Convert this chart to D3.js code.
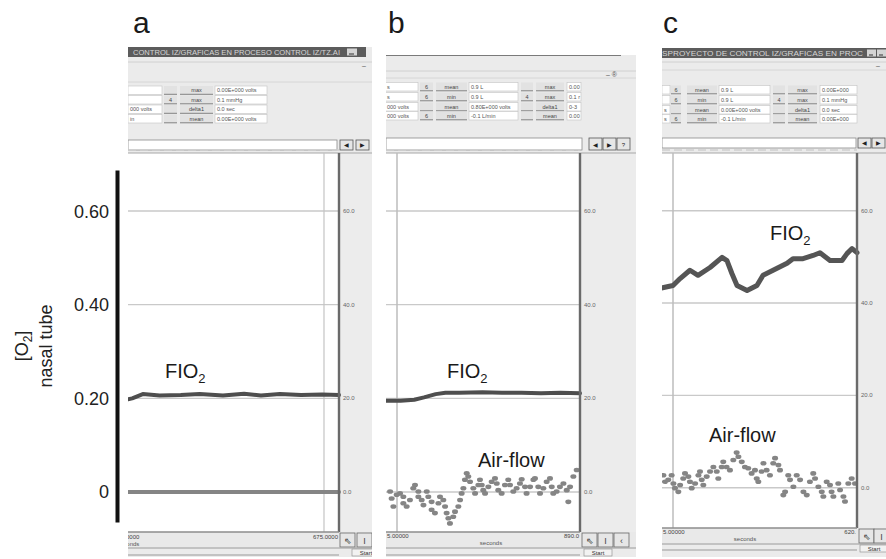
<!DOCTYPE html>
<html>
<head>
<meta charset="utf-8">
<script src="https://cdn.jsdelivr.net/npm/d3@7"></script>
<style>
body { margin: 0; background: #fff; }
</style>
</head>
<body>
<div id="chart"></div>
<script>
// ---- data ----
var panelLetters = ['a', 'b', 'c'];
var leftTicks = [0, 0.2, 0.4, 0.6];
var leftTickLabels = ['0', '0.20', '0.40', '0.60'];
var rightTicks = [0, 20, 40, 60];
var rightTickLabels = ['0.0', '20.0', '40.0', '60.0'];

// time is % of the visible trace window
var fio2A_t = [0, 2, 7, 15, 25, 34, 45, 55, 63, 72, 82, 92, 100];
var fio2A_v = [19.8, 20.0, 20.9, 20.6, 20.7, 20.9, 20.6, 21.0, 20.6, 20.9, 20.7, 20.8, 20.7];
var zeroA_t = [0, 100];
var zeroA_v = [0, 0];

var fio2B_t = [0, 8, 15, 20, 26, 31, 38, 50, 60, 70, 80, 90, 100];
var fio2B_v = [19.5, 19.5, 19.7, 20.2, 20.9, 21.2, 21.2, 21.3, 21.2, 21.2, 21.1, 21.2, 21.1];
var airB_t = [2.6, 3.4, 4.3, 6.0, 7.7, 9.4, 9.4, 11.1, 12.8, 14.5, 15.4, 17.1, 17.1, 18.8, 19.7, 21.4, 22.2, 23.9, 23.9, 25.6,
  27.4, 28.2, 29.9, 30.8, 31.6, 32.5, 33.3, 35.0, 35.9, 37.6, 38.5, 39.3, 40.2, 41.0, 41.9, 42.7, 43.6, 45.3, 46.2, 47.9,
  48.7, 49.6, 50.4, 51.3, 53.0, 54.7, 56.4, 57.3, 58.1, 59.8, 61.5, 63.2, 64.1, 65.8, 67.5, 69.2, 70.1, 71.8, 72.6, 74.4,
  76.1, 76.9, 78.6, 79.5, 81.2, 82.9, 84.6, 85.5, 86.3, 88.0, 89.7, 91.5, 93.2, 94.0, 94.9, 96.6, 98.3];
var airB_v = [0.1, -1.4, -3.1, -0.6, -0.3, -1.0, -2.4, -3.1, -1.7, 0.8, 1.5, 0.1, -1.0, -1.7, -2.8, 0.1, -1.0, -2.1, -3.8, -4.5,
  -2.4, -1.0, -1.7, -3.1, -4.5, -5.6, -6.7, -5.3, -4.2, -3.1, -1.7, -0.3, 0.8, 2.6, 4.0, 3.3, 2.2, 0.8, -0.3, 1.5,
  2.6, 1.5, 0.4, -0.3, 1.1, 2.2, 2.9, 1.8, 0.4, -0.3, 1.5, 2.6, 1.5, 0.1, 0.8, 1.8, 2.7, 1.1, -0.3, 1.1,
  2.6, 2.9, 1.1, -0.3, 0.8, 2.2, 2.9, 1.1, -0.3, 0.1, 1.1, 1.8, 0.4, -2.1, 1.1, 3.3, 4.7];

var fio2C_t = [0, 6.6, 10.2, 15.2, 19.3, 25.4, 31.5, 34.0, 36.5, 39.1, 44.2, 49.2, 52.3, 57.4, 64.5, 67.5, 72.6, 77.7, 81.2, 86.3, 92.4, 94.9, 97.5, 100];
var fio2C_v = [43.2, 43.8, 45.3, 47.1, 46.0, 47.7, 49.9, 49.2, 46.4, 43.8, 42.7, 43.8, 46.0, 47.1, 48.6, 49.6, 49.6, 50.3, 50.9, 49.2, 49.2, 50.7, 51.8, 50.9];
var airC_t = [1.7, 2.5, 4.2, 5.9, 6.8, 7.6, 9.3, 10.2, 11.8, 12.7, 14.4, 15.2, 16.1, 17.8, 19.5, 20.3, 21.2, 22.0, 23.7, 25.4,
  27.1, 28.8, 29.6, 31.3, 32.1, 33.8, 35.5, 37.2, 38.9, 39.8, 41.5, 43.1, 44.8, 46.5, 48.2, 49.1, 49.9, 51.6, 52.5, 54.1,
  55.8, 57.5, 58.4, 60.1, 60.9, 62.6, 63.5, 65.1, 66.0, 67.7, 69.4, 71.1, 72.8, 74.5, 76.1, 77.8, 78.7, 80.4, 82.1, 82.9,
  84.6, 86.3, 87.1, 88.0, 90.5, 91.4, 93.1, 93.9, 95.6, 97.3, 99.0];
var airC_v = [2.7, 1.3, 1.7, 2.7, 0.9, -0.1, -0.9, 0.6, 2.0, 3.1, 2.4, 1.3, -0.1, 0.9, 2.7, 3.5, 1.7, 0.6, 2.4, 3.5,
  4.5, 3.5, 2.0, 4.5, 5.6, 4.5, 3.8, 6.0, 7.6, 6.7, 5.6, 4.5, 4.2, 3.1, 3.8, 2.0, 1.3, 3.5, 5.3, 3.8,
  2.7, 5.3, 6.4, 4.9, 3.8, -1.6, -0.9, 2.7, 1.7, 0.2, 2.7, 1.7, -0.9, -1.6, 1.3, 3.1, 2.0, 0.2, -0.9, -1.9,
  1.3, 0.6, -0.9, -1.9, 0.9, -0.5, -1.9, -3.0, 0.9, 2.0, 0.9];

// software screenshot texts
var titleA = 'CONTROL IZ/GRAFICAS EN PROCESO CONTROL IZ/TZ.AI';
var titleC = 'SPROYECTO DE CONTROL IZ/GRAFICAS EN PROC';
var tableA = [
  ['', '', 'max', '0.00E+000 volts'],
  ['', '4', 'max', '0.1 mmHg'],
  ['000 volts', '', 'delta1', '0.0 sec'],
  ['in', '', 'mean', '0.00E+000 volts']
];
var tableB = [
  ['s', '6', 'mean', '0.9 L', '', 'max', '0.00'],
  ['s', '6', 'min', '0.9 L', '4', 'max', '0.1 r'],
  ['000 volts', '', 'mean', '0.80E+000 volts', '', 'delta1', '0-3'],
  ['000 volts', '6', 'min', '-0.1 L/min', '', 'mean', '0.00']
];
var tableC = [
  ['', '6', 'mean', '0.9 L', '', 'max', '0.00E+000'],
  ['', '6', 'min', '0.9 L', '4', 'max', '0.1 mmHg'],
  ['s', '', 'mean', '0.00E+000 volts', '', 'delta1', '0.0 sec'],
  ['s', '6', 'min', '-0.1 L/min', '', 'mean', '0.00E+000']
];
var xLabelsA = ['0.0000', '675.0000'];
var xLabelsB = ['5.00000', '890.0'];
var xLabelsC = ['5.00000', '620.'];

// ---- layout ----
var font = "'Liberation Sans', Arial, Helvetica, sans-serif";
var svg = d3.select('#chart')
  .append('svg')
  .attr('width', 886)
  .attr('height', 559)
  .style('font-family', font);

var panels = [
  {key: 'a', x0: 128, x1: 372, top: 47, bottom: 557, plotTop: 153, plotBot: 532,
    xL: 128, xR: 339, y0: 492, y60: 211, title: titleA, titleX: 133, titleW: 207, barEnd: 366,
    winBtns: [[347, 10]], menuLine: 62, menuLine2: 82,
    cols: [[128, 34, 'box'], [164, 13, 'sb'], [180, 33, 'btn'], [215, 52, 'box']],
    rowTops: [86, 95.5, 105, 114.5], table: tableA,
    tbY: 140, tbH: 10, tbEnd: 337, navBtns: [[340, '\u25C0'], [356, '\u25B6']],
    cursor: 324, leftLine: null,
    xLabels: xLabelsA, xlY: 539, secX: 117, btnX: [340, 357], startX: 352, endLine: 555},
  {key: 'b', x0: 386, x1: 636, top: 55, bottom: 557, plotTop: 153, plotBot: 532,
    xL: 385, xR: 580, y0: 492, y60: 211, title: null, menuLine: 71, menuLine2: 78,
    cols: [[385, 33, 'box'], [420, 13, 'sb'], [436, 31, 'btn'], [469, 49, 'box'], [521, 12, 'sb'], [536, 28, 'btn'], [567, 14, 'box']],
    rowTops: [82.5, 92.5, 102.5, 111.5], table: tableB,
    tbY: 138, tbH: 12, tbEnd: 582, navBtns: [[589, '\u25C0'], [603, '\u25B6'], [617, '?']],
    cursor: null, leftLine: 397,
    xLabels: xLabelsB, xlY: 538, secX: 491, btnX: [582, 598, 614], startX: 584, endLine: 555},
  {key: 'c', x0: 662, x1: 886, top: 48, bottom: 557, plotTop: 153, plotBot: 528,
    xL: 660, xR: 857, y0: 487.7, y60: 210.7, title: titleC, titleX: 662, titleW: 201, barEnd: 886,
    winBtns: [[867, 9], [877, 9]], menuLine: 62, menuLine2: 70,
    cols: [[662, 8, 'box'], [671, 10, 'sb'], [687, 30, 'btn'], [719, 51, 'box'], [773, 12, 'sb'], [788, 29, 'btn'], [820, 37, 'box']],
    rowTops: [85.5, 95.5, 105.5, 114.5], table: tableC,
    tbY: 138, tbH: 10, tbEnd: 856, navBtns: [[858, '\u25C0'], [872, '\u25B6']],
    cursor: null, leftLine: 673,
    xLabels: xLabelsC, xlY: 534, secX: 745, btnX: [859, 874], startX: 860, endLine: 550}
];

var traces = {
  a: {lines: [[fio2A_t, fio2A_v, '#4e4e4e', 4], [zeroA_t, zeroA_v, '#858585', 4]], dots: null},
  b: {lines: [[fio2B_t, fio2B_v, '#4e4e4e', 4]], dots: [airB_t, airB_v]},
  c: {lines: [[fio2C_t, fio2C_v, '#555555', 5]], dots: [airC_t, airC_v]}
};

function drawPanel(p) {
  var x = d3.scaleLinear().domain([0, 100]).range([p.xL, p.xR]);
  var y = d3.scaleLinear().domain([0, 60]).range([p.y0, p.y60]);
  var rightLine = p.xR;

  svg.append('clipPath')
    .attr('id', 'clip-' + p.key)
    .append('rect')
    .attr('x', p.x0).attr('y', p.top)
    .attr('width', p.x1 - p.x0).attr('height', p.bottom - p.top);
  var g = svg.append('g').attr('clip-path', 'url(#clip-' + p.key + ')');

  // window background
  g.append('rect').attr('x', p.x0).attr('y', p.top)
    .attr('width', p.x1 - p.x0).attr('height', p.bottom - p.top).attr('fill', '#ebebeb');

  // title bar
  if (p.title) {
    g.append('rect').attr('x', p.x0).attr('y', p.top)
      .attr('width', p.barEnd - p.x0).attr('height', 10).attr('fill', '#5c5c5c');
    g.append('text').attr('x', p.titleX).attr('y', p.top + 7.5)
      .attr('textLength', p.titleW).attr('lengthAdjust', 'spacingAndGlyphs')
      .style('font-size', '7px').attr('fill', '#d6d6d6').text(p.title);
    p.winBtns.forEach(function (b) {
      g.append('rect').attr('x', b[0]).attr('y', p.top + 1.5).attr('width', b[1]).attr('height', 7)
        .attr('fill', '#d4d4d4');
      g.append('line').attr('x1', b[0] + 2).attr('x2', b[0] + b[1] - 3)
        .attr('y1', p.top + 7).attr('y2', p.top + 7).attr('stroke', '#333');
    });
  } else {
    g.append('line').attr('x1', p.x0).attr('x2', p.x1 - 15)
      .attr('y1', p.top).attr('y2', p.top).attr('stroke', '#555').attr('stroke-width', 1.5);
  }
  g.append('line').attr('x1', p.x0).attr('x2', p.x1)
    .attr('y1', p.menuLine).attr('y2', p.menuLine).attr('stroke', '#d0d0d0');
  g.append('line').attr('x1', p.x0).attr('x2', p.x1)
    .attr('y1', p.menuLine2).attr('y2', p.menuLine2).attr('stroke', '#d6d6d6');
  g.append('text').attr('x', p.x1 - (p.title ? 10 : 30)).attr('y', p.menuLine + 6)
    .style('font-size', '7px').attr('fill', '#555').text(p.title ? '\u2013' : '\u2013  \u00ae');

  // readout table
  p.table.forEach(function (row, ri) {
    var ty = p.rowTops[ri];
    p.cols.forEach(function (c, ci) {
      var txt = row[ci];
      if (c[2] === 'box') {
        g.append('rect').attr('x', c[0]).attr('y', ty).attr('width', c[1]).attr('height', 8.5)
          .attr('fill', '#fff').attr('stroke', '#c4c4c4').attr('stroke-width', 0.6);
        g.append('text').attr('x', c[0] + 2).attr('y', ty + 6.3)
          .style('font-size', '5.5px').attr('fill', '#555').text(txt);
      } else {
        g.append('rect').attr('x', c[0]).attr('y', ty).attr('width', c[1]).attr('height', 8.5)
          .attr('fill', '#e2e2e2');
        g.append('line').attr('x1', c[0]).attr('x2', c[0] + c[1])
          .attr('y1', ty + 8.3).attr('y2', ty + 8.3).attr('stroke', '#6a6a6a').attr('stroke-width', 0.8);
        g.append('text').attr('x', c[0] + c[1] / 2).attr('y', ty + 6.3).attr('text-anchor', 'middle')
          .style('font-size', '5.5px').attr('fill', '#444').text(txt);
      }
    });
  });

  // toolbar input and navigation buttons
  g.append('rect').attr('x', p.x0).attr('y', p.tbY).attr('width', p.tbEnd - p.x0).attr('height', p.tbH)
    .attr('fill', '#fff').attr('stroke', '#8a8a8a').attr('stroke-width', 0.8);
  p.navBtns.forEach(function (b) {
    g.append('rect').attr('x', b[0]).attr('y', p.tbY).attr('width', 13).attr('height', p.tbH)
      .attr('fill', '#e6e6e6').attr('stroke', '#555').attr('stroke-width', 0.8);
    g.append('text').attr('x', b[0] + 6.5).attr('y', p.tbY + p.tbH - 3).attr('text-anchor', 'middle')
      .style('font-size', '6px').attr('fill', '#222').text(b[1]);
  });
  g.append('line').attr('x1', p.x0).attr('x2', rightLine)
    .attr('y1', p.plotTop - 3).attr('y2', p.plotTop - 3)
    .attr('stroke', '#cfcfcf').attr('stroke-width', 1.5).attr('stroke-dasharray', '8,4');

  // plot area and right value strip
  g.append('rect').attr('x', p.x0).attr('y', p.plotTop)
    .attr('width', rightLine - p.x0).attr('height', p.plotBot - p.plotTop).attr('fill', '#fff');
  g.append('rect').attr('x', rightLine).attr('y', p.plotTop)
    .attr('width', p.x1 - rightLine).attr('height', p.plotBot - p.plotTop).attr('fill', '#ececec');
  g.append('line').attr('x1', p.x0).attr('x2', p.x1)
    .attr('y1', p.plotTop).attr('y2', p.plotTop).attr('stroke', '#a8a8a8').attr('stroke-width', 1.2);

  // grid
  g.selectAll('.grid').data(rightTicks).enter().append('line')
    .attr('x1', p.x0).attr('x2', rightLine)
    .attr('y1', function (d) { return y(d); }).attr('y2', function (d) { return y(d); })
    .attr('stroke', '#c9c9c9').attr('stroke-width', 1.4);
  if (p.leftLine) {
    g.append('line').attr('x1', p.leftLine).attr('x2', p.leftLine)
      .attr('y1', p.plotTop).attr('y2', p.plotBot).attr('stroke', '#bdbdbd').attr('stroke-width', 1.5);
  }
  if (p.cursor) {
    g.append('line').attr('x1', p.cursor).attr('x2', p.cursor)
      .attr('y1', p.plotTop).attr('y2', p.plotBot).attr('stroke', '#c4c4c4').attr('stroke-width', 1.2);
  }

  // traces
  var line = d3.line()
    .x(function (d) { return x(d[0]); })
    .y(function (d) { return y(d[1]); })
    .curve(d3.curveLinear);
  var tr = traces[p.key];
  tr.lines.forEach(function (l) {
    g.append('path').datum(d3.zip(l[0], l[1]))
      .attr('d', line).attr('fill', 'none')
      .attr('stroke', l[2]).attr('stroke-width', l[3])
      .attr('stroke-linecap', 'round').attr('stroke-linejoin', 'round');
  });
  if (tr.dots) {
    g.selectAll('.dot').data(d3.zip(tr.dots[0], tr.dots[1])).enter().append('ellipse')
      .attr('cx', function (d) { return x(d[0]); })
      .attr('cy', function (d) { return y(d[1]); })
      .attr('rx', 3).attr('ry', 2.3)
      .attr('fill', '#858585');
  }

  // right value line and labels
  g.append('line').attr('x1', rightLine).attr('x2', rightLine)
    .attr('y1', p.plotTop).attr('y2', p.plotBot + 2).attr('stroke', '#6a6a6a').attr('stroke-width', 2.4);
  g.selectAll('.rlab').data(rightTicks).enter().append('text')
    .attr('x', rightLine + 4)
    .attr('y', function (d) { return y(d) + 2; })
    .style('font-size', '6px').attr('fill', '#666')
    .text(function (d, i) { return rightTickLabels[i]; });

  // bottom time axis bar
  g.append('rect').attr('x', p.x0).attr('y', p.plotBot).attr('width', p.x1 - p.x0).attr('height', 16)
    .attr('fill', '#e9e9e9');
  g.append('line').attr('x1', p.x0).attr('x2', rightLine)
    .attr('y1', p.plotBot).attr('y2', p.plotBot).attr('stroke', '#8c8c8c').attr('stroke-width', 1.5);
  g.append('text').attr('x', p.key === 'a' ? 121 : p.x0 + 1).attr('y', p.xlY)
    .style('font-size', '6px').attr('fill', '#444').text(p.xLabels[0]);
  g.append('text').attr('x', rightLine - 1).attr('y', p.xlY).attr('text-anchor', 'end')
    .style('font-size', '6px').attr('fill', '#444').text(p.xLabels[1]);
  g.append('text').attr('x', p.secX).attr('y', p.xlY + 7).attr('text-anchor', p.key === 'a' ? 'start' : 'middle')
    .style('font-size', '6px').attr('fill', '#555').text('seconds');
  p.btnX.forEach(function (bx, i) {
    g.append('rect').attr('x', bx).attr('y', p.plotBot + 1).attr('width', 15).attr('height', 14)
      .attr('fill', '#e6e6e6').attr('stroke', '#666').attr('stroke-width', 0.8);
    g.append('text').attr('x', bx + 7.5).attr('y', p.plotBot + 12).attr('text-anchor', 'middle')
      .style('font-size', '9px').attr('fill', '#444')
      .text(['\u21D6', 'I', '\u2039'][i]);
  });
  g.append('line').attr('x1', p.x0).attr('x2', p.x1)
    .attr('y1', p.plotBot + 16).attr('y2', p.plotBot + 16).attr('stroke', '#9a9a9a');
  g.append('rect').attr('x', p.startX).attr('y', p.plotBot + 17).attr('width', 28).attr('height', 7)
    .attr('fill', '#f2f2f2').attr('stroke', '#888').attr('stroke-width', 0.6);
  g.append('text').attr('x', p.startX + 14).attr('y', p.plotBot + 23).attr('text-anchor', 'middle')
    .style('font-size', '6px').attr('fill', '#333').text('Start');
  g.append('line').attr('x1', p.x0).attr('x2', rightLine)
    .attr('y1', p.endLine).attr('y2', p.endLine).attr('stroke', '#9a9a9a').attr('stroke-width', 1.2);
}

panels.forEach(drawPanel);

// panel letters
var letterX = [133, 388, 663];
svg.selectAll('.letter').data(panelLetters).enter().append('text')
  .attr('x', function (d, i) { return letterX[i]; })
  .attr('y', 33)
  .style('font-size', '30px').attr('fill', '#1a1a1a')
  .text(function (d) { return d; });

// trace labels
function subLabel(xp, yp, main, sub) {
  var t = svg.append('text').attr('x', xp).attr('y', yp)
    .style('font-size', '20px').attr('fill', '#1a1a1a').text(main);
  if (sub) {
    t.append('tspan').attr('dy', 5).style('font-size', '13px').text(sub);
  }
}
subLabel(165, 378, 'FIO', '2');
subLabel(447, 378, 'FIO', '2');
subLabel(770, 240, 'FIO', '2');
subLabel(478, 467, 'Air-flow');
subLabel(709, 442, 'Air-flow');

// shared left axis
var yLeft = d3.scaleLinear().domain([-0.064, 0.689]).range([522, 170]);
var leftAxis = d3.axisLeft(yLeft)
  .tickValues(leftTicks)
  .tickFormat(function (d, i) { return leftTickLabels[i]; })
  .tickSize(0)
  .tickPadding(8);
var ax = svg.append('g')
  .attr('class', 'y-axis')
  .attr('transform', 'translate(117,0)')
  .call(leftAxis);
ax.select('.domain').attr('stroke', '#111').attr('stroke-width', 4);
ax.selectAll('.tick text')
  .style('font-family', font).style('font-size', '18px').attr('fill', '#222');

var yl = svg.append('text')
  .attr('transform', 'translate(28,346) rotate(-90)')
  .attr('text-anchor', 'middle')
  .style('font-size', '18px').attr('fill', '#222');
yl.append('tspan').text('[O');
yl.append('tspan').attr('dy', 4).style('font-size', '12px').text('2');
yl.append('tspan').attr('dy', -4).text(']');
svg.append('text')
  .attr('transform', 'translate(52,346) rotate(-90)')
  .attr('text-anchor', 'middle')
  .style('font-size', '18px').attr('fill', '#222')
  .text('nasal tube');
</script>
</body>
</html>
